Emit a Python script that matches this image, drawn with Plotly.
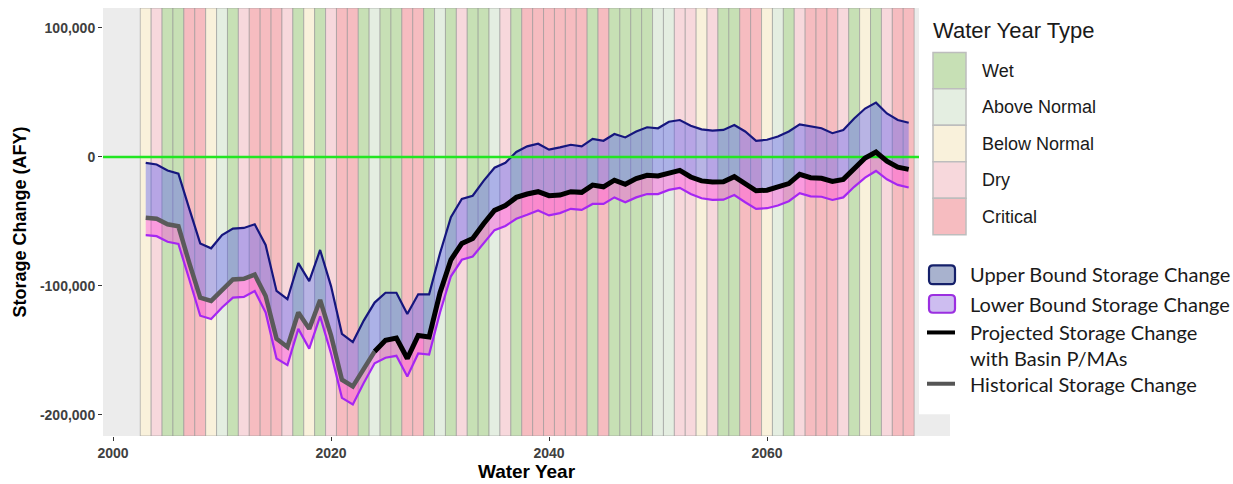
import plotly.graph_objects as go

# ---------------- data ----------------
years = list(range(2003, 2074))

water_year_type = [
    "Below Normal", "Dry", "Wet", "Wet", "Critical", "Critical", "Below Normal", "Above Normal",  # 2003-2010
    "Wet", "Dry", "Critical", "Critical", "Critical", "Dry", "Wet", "Below Normal", "Wet", "Dry",  # 2011-2020
    "Critical", "Critical", "Wet", "Above Normal", "Wet", "Wet", "Critical", "Critical", "Wet", "Above Normal",  # 2021-2030
    "Wet", "Dry", "Wet", "Wet", "Above Normal", "Dry", "Wet", "Critical", "Critical", "Critical",  # 2031-2040
    "Critical", "Critical", "Critical", "Wet", "Critical", "Wet", "Wet", "Wet", "Wet", "Above Normal",  # 2041-2050
    "Above Normal", "Dry", "Dry", "Below Normal", "Dry", "Wet", "Wet", "Critical", "Critical", "Below Normal",  # 2051-2060
    "Above Normal", "Wet", "Dry", "Critical", "Critical", "Critical", "Dry", "Wet", "Below Normal", "Wet",  # 2061-2070
    "Dry", "Critical", "Critical",  # 2071-2073
]

wyt_categories = ["Wet", "Above Normal", "Below Normal", "Dry", "Critical"]

upper_bound = [
    -4600, -5900, -10500, -13000, -40300, -67100, -70900, -60700, -55600, -55100,   # 2003-2012
    -52300, -68300, -104000, -110400, -82400, -96400, -72200, -100200, -137200, -143600,  # 2013-2022
    -127000, -113000, -105400, -105400, -121900, -106600, -106600, -74700, -46700, -32700,  # 2023-2032
    -30100, -18600, -8400, -4600, 3800, 8200, 10200, 5600, 7400, 9400,  # 2033-2042
    8200, 14000, 12500, 17800, 15100, 19700, 23000, 22200, 27300, 28600,  # 2043-2052
    24200, 21400, 20400, 20900, 24700, 19700, 12500, 13300, 15800, 19700,  # 2053-2062
    25200, 23500, 22200, 18400, 20900, 29800, 37500, 42100, 33700, 28600,  # 2063-2072
    26500,  # 2073
]

lower_bound = [
    -60700, -61500, -65800, -67600, -95100, -123200, -125700, -116800, -109200, -108600,  # 2003-2012
    -104000, -120700, -156400, -161500, -133400, -148700, -123700, -152500, -186900, -192000,  # 2013-2022
    -175400, -160100, -155800, -154300, -170400, -152500, -153300, -120700, -92600, -79800,  # 2023-2032
    -77300, -67100, -56800, -53600, -48000, -44900, -41500, -45400, -43600, -40300,  # 2033-2042
    -41100, -36500, -36500, -31400, -35200, -31400, -28800, -28800, -25600, -24000,  # 2043-2052
    -28800, -32100, -33400, -33200, -29600, -35200, -40300, -39800, -37700, -34400,  # 2053-2062
    -28100, -30600, -30900, -33400, -31400, -23200, -16100, -10900, -17400, -21700,  # 2063-2072
    -23700,  # 2073
]

hist_years = list(range(2003, 2025))
historical = [
    -47200, -48000, -52300, -53800, -82400, -109200, -111700, -102800, -95100, -94600,  # 2003-2012
    -91300, -107900, -141000, -147400, -120700, -133400, -111000, -138500, -172900, -178000,  # 2013-2022
    -164000, -151000,  # 2023-2024
]

proj_years = list(range(2024, 2074))
projected = [
    -151000, -142300, -140500, -156400, -138500, -139700, -105400, -79800, -67100, -63300,  # 2024-2033
    -51800, -41500, -37700, -31400, -28800, -27000, -30100, -29600, -27000, -27500,  # 2034-2043
    -21900, -23200, -18100, -21200, -16800, -14300, -14800, -12200, -10500, -15600,  # 2044-2053
    -18600, -19400, -19300, -15300, -20700, -26300, -25800, -23700, -20700, -13500,  # 2054-2063
    -16100, -16600, -19100, -17400, -8400, -800, 3800, -3300, -7900, -9700,  # 2064-2073
]

x_ticks = [2000, 2020, 2040, 2060]
y_ticks = [100000, 0, -100000, -200000]
y_tick_labels = ["100,000", "0", "-100,000", "-200,000"]

line_legend_labels = [
    "Upper Bound Storage Change",
    "Lower Bound Storage Change",
    "Projected Storage Change<br>with Basin P/MAs",
    "Historical Storage Change",
]

# ---------------- styles ----------------
wyt_colors = {
    "Wet": "#C7E0B5",
    "Above Normal": "#E4EEE1",
    "Below Normal": "#F9F1DB",
    "Dry": "#F7D8DC",
    "Critical": "#F6BCC0",
}
X_RANGE = [1999.08, 2076.79]
Y_RANGE = [-216500, 115500]

W, H = 1233, 484
ML, MR, MT, MB = 103, 283, 8, 42
PW = W - ML - MR
PH = H - MT - MB


def px(x):
    return (x - ML) / PW


def py(y):
    return (H - MB - y) / PH


# combined centre line (historical then projected)
centre = historical[:-1] + projected

fig = go.Figure()

# water-year-type background bars
fig.add_trace(go.Bar(
    x=years,
    y=[Y_RANGE[1] - Y_RANGE[0]] * len(years),
    base=Y_RANGE[0],
    width=1,
    marker=dict(color=[wyt_colors[t] for t in water_year_type],
                line=dict(color="rgba(150,150,150,0.6)", width=1)),
    showlegend=False, hoverinfo="skip",
))

# lower ribbon (centre -> lower)
fig.add_trace(go.Scatter(x=years, y=centre, mode="lines", line=dict(width=0),
                         showlegend=False, hoverinfo="skip"))
fig.add_trace(go.Scatter(x=years, y=lower_bound, mode="lines", line=dict(width=0),
                         fill="tonexty", fillcolor="rgba(255,70,225,0.42)",
                         showlegend=False, hoverinfo="skip"))
# upper ribbon (centre -> upper)
fig.add_trace(go.Scatter(x=years, y=centre, mode="lines", line=dict(width=0),
                         showlegend=False, hoverinfo="skip"))
fig.add_trace(go.Scatter(x=years, y=upper_bound, mode="lines", line=dict(width=0),
                         fill="tonexty", fillcolor="rgba(95,95,240,0.42)",
                         showlegend=False, hoverinfo="skip"))

# bound lines
fig.add_trace(go.Scatter(x=years, y=upper_bound, mode="lines",
                         line=dict(color="#16167E", width=2.2), showlegend=False))
fig.add_trace(go.Scatter(x=years, y=lower_bound, mode="lines",
                         line=dict(color="#A526F2", width=2.2), showlegend=False))

# zero line
fig.add_trace(go.Scatter(x=X_RANGE, y=[0, 0], mode="lines",
                         line=dict(color="#22E622", width=2.5), showlegend=False,
                         hoverinfo="skip"))

# historical & projected
fig.add_trace(go.Scatter(x=hist_years, y=historical, mode="lines",
                         line=dict(color="#5A5A5A", width=4.5), showlegend=False))
fig.add_trace(go.Scatter(x=proj_years, y=projected, mode="lines",
                         line=dict(color="#000000", width=5), showlegend=False))

shapes = []
annotations = []

# white cover at right edge of panel (legend background overlapping panel)
shapes.append(dict(type="rect", xref="paper", yref="paper",
                   x0=px(919), x1=px(960), y0=py(420), y1=py(-5),
                   fillcolor="white", line=dict(width=0), layer="above"))

# ---- legend 1 : Water Year Type ----
annotations.append(dict(text="Water Year Type", xref="paper", yref="paper",
                        x=px(931), y=py(31), xanchor="left", yanchor="middle",
                        showarrow=False,
                        font=dict(family="Liberation Sans, Arial", size=22, color="#1A1A1A")))
row_top = 53
row_h = 37
for i, cat in enumerate(wyt_categories):
    t = row_top + i * row_h
    shapes.append(dict(type="rect", xref="paper", yref="paper",
                       x0=px(933), x1=px(966), y0=py(t + row_h), y1=py(t),
                       fillcolor=wyt_colors[cat], line=dict(color="#BDBDBD", width=1.5),
                       layer="above"))
    annotations.append(dict(text=cat, xref="paper", yref="paper",
                            x=px(980), y=py(t + row_h / 2), xanchor="left", yanchor="middle",
                            showarrow=False,
                            font=dict(family="Liberation Sans, Arial", size=18, color="#1A1A1A")))


# ---- legend 2 : lines ----
def rpath(x0, y0, x1, y1, r):
    # pixel coordinates -> paper, rounded rectangle path
    rx = r / PW
    ry = r / PH
    a0, a1 = px(x0), px(x1)
    b0, b1 = py(y1), py(y0)  # bottom, top
    return (f"M {a0+rx},{b1} L {a1-rx},{b1} Q {a1},{b1} {a1},{b1-ry} "
            f"L {a1},{b0+ry} Q {a1},{b0} {a1-rx},{b0} L {a0+rx},{b0} "
            f"Q {a0},{b0} {a0},{b0+ry} L {a0},{b1-ry} Q {a0},{b1} {a0+rx},{b1} Z")


shapes.append(dict(type="path", xref="paper", yref="paper", path=rpath(929, 269, 955, 288, 4),
                   fillcolor="#A8B2CE", line=dict(color="#15206A", width=2.2), layer="above"))
shapes.append(dict(type="path", xref="paper", yref="paper", path=rpath(929, 299, 955, 317, 4),
                   fillcolor="#CDBDF0", line=dict(color="#9B2FE0", width=2.2), layer="above"))
shapes.append(dict(type="line", xref="paper", yref="paper",
                   x0=px(927), x1=px(955), y0=py(337), y1=py(337),
                   line=dict(color="#000000", width=4), layer="above"))
shapes.append(dict(type="line", xref="paper", yref="paper",
                   x0=px(927), x1=px(955), y0=py(389), y1=py(389),
                   line=dict(color="#555555", width=4), layer="above"))

leg2_y = [278, 308, 350, 389]
for lbl, yy in zip(line_legend_labels, leg2_y):
    annotations.append(dict(text=lbl, xref="paper", yref="paper",
                            x=px(968), y=py(yy), xanchor="left", yanchor="middle",
                            align="left", showarrow=False,
                            font=dict(family="Lato, Open Sans", size=20, color="#1A1A1A")))

fig.update_layout(
    width=W, height=H,
    margin=dict(l=ML, r=MR, t=MT, b=MB),
    paper_bgcolor="white",
    plot_bgcolor="#ECECEC",
    barmode="overlay",
    shapes=shapes,
    annotations=annotations,
    showlegend=False,
    font=dict(family="Liberation Sans, Arial"),
)

fig.update_xaxes(
    range=X_RANGE, tickvals=x_ticks, ticktext=[f"<b>{v}</b>" for v in x_ticks],
    ticks="outside", ticklen=4, tickcolor="#333333", showgrid=False, zeroline=False,
    tickfont=dict(size=14, color="#404040"),
    title=dict(text="<b>Water Year</b>", font=dict(size=19, color="#000000"), standoff=2),
    showline=False,
)
fig.update_yaxes(
    range=Y_RANGE, tickvals=y_ticks, ticktext=[f"<b>{t}</b>" for t in y_tick_labels],
    ticks="outside", ticklen=4, tickcolor="#333333", showgrid=False, zeroline=False,
    tickfont=dict(size=14, color="#404040"),
    title=dict(text="<b>Storage Change (AFY)</b>", font=dict(size=18, color="#000000"), standoff=8),
    showline=False,
)

fig.write_html("out.html")
